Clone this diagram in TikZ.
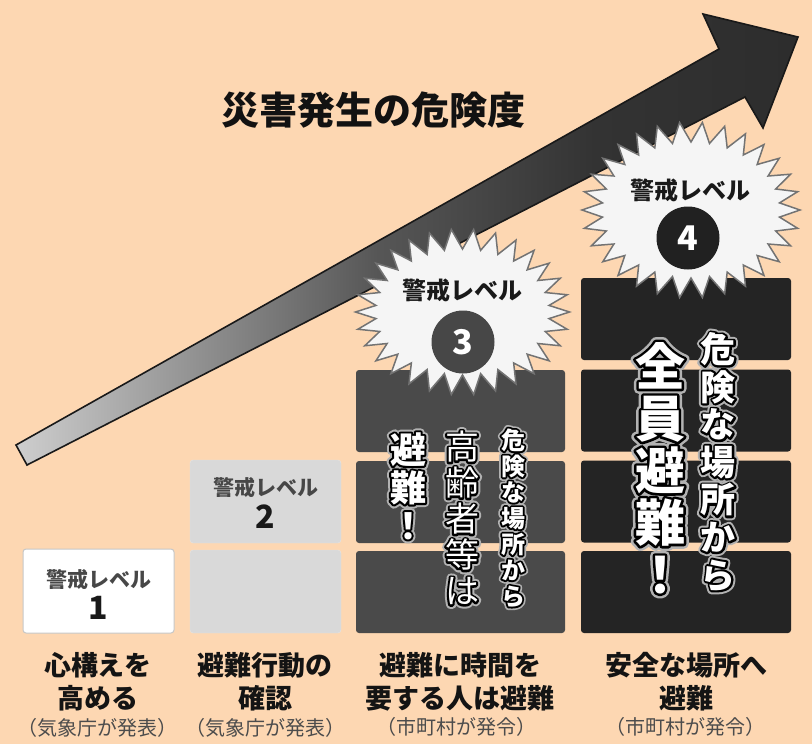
\documentclass[tikz,border=0pt]{standalone}
\usepackage{fontspec}
\newfontfamily\jp{Noto Sans CJK JP}
\usetikzlibrary{calc}
\definecolor{bg}{RGB}{253,215,178}
\newcommand\fs[2]{\fontsize{#1}{#2}\selectfont}
\pgfdeclarehorizontalshading{arrowshade}{100bp}{color(0bp)=(white); color(12bp)=(black!5); color(22bp)=(black!13); color(36bp)=(black!42); color(48bp)=(black!66); color(62bp)=(black!80); color(100bp)=(black!87)}
\newcommand\burst[6]{\draw[burst] ({#1+#3},{#2}) \foreach \i in {1,...,#5}{ -- ({#1+(#3-#6)*cos((\i-0.5)*360/#5)},{#2+(#4-#6)*sin((\i-0.5)*360/#5)}) -- ({#1+#3*cos(\i*360/#5)},{#2+#4*sin(\i*360/#5)}) } -- cycle;}
% outlined white text: name, position, font, text, outline stroke width, halo stroke width
\newcommand\otext[6]{%
  \node[align=center, font=#3, text=black!30] at (#2) {\special{pdf:literal direct #6 w 1 j 0.7 0.7 0.7 RG 2 Tr}#4};
  \node[align=center, font=#3, text=black] at (#2) {\special{pdf:literal direct #5 w 1 j 0 0 0 RG 2 Tr}#4};
  \node[align=center, font=#3, text=white] (#1) at (#2) {\special{pdf:literal direct 0 Tr}#4};
}
\begin{document}
\begin{tikzpicture}[x=1pt,y=-1pt,
  every node/.style={inner sep=0pt},
  lbl/.style={font=\jp\bfseries\fs{27}{33}, text=black!92, align=center},
  subl/.style={font=\jp\fs{20}{22}, text=black!70},
  lvtxt/.style={font=\jp\bfseries\fs{21}{23}, text=black!72},
  digit/.style={font=\jp\bfseries\fs{32}{34}, text=black!90},
  startxt/.style={font=\jp\bfseries\fs{24}{26}, text=black!90},
  circ/.style={circle, minimum size=63pt, text=white, font=\jp\bfseries\fs{34}{36}},
  burst/.style={fill=black!4, draw=black!55, line width=1.5pt, line join=miter},
  lvone/.style={draw=black!22, line width=1pt, fill=white, rounded corners=3pt, minimum width=151pt, minimum height=84pt},
  lvtwo/.style={fill=black!15, draw=black!10, rounded corners=3pt, minimum width=151pt, minimum height=83pt},
  lvthree/.style={fill=black!71, rounded corners=3pt, minimum width=209pt, minimum height=82pt},
  lvfour/.style={fill=black!86, rounded corners=3pt, minimum width=210pt, minimum height=82pt},
]
\fill[bg] (0,0) rectangle (812,744);
\useasboundingbox (0,0) rectangle (812,744);

% arrow
\coordinate (ta) at (16,445);
\coordinate (sb) at (719,49);
\coordinate (hc) at (703,14);
\coordinate (tip) at (798,37);
\coordinate (he) at (763,128);
\coordinate (sf) at (745,97);
\coordinate (tg) at (27,465);
\draw[shading=arrowshade, draw=black!90, line width=1.6pt, line join=miter]
  (ta) -- (sb) -- (hc) -- (tip) -- (he) -- (sf) -- (tg) -- cycle;

% title
\node[font=\jp\bfseries\fs{38}{40}, text=black!93] (title) at (373,110) {災害発生の危険度};

% level 1
\node[lvone] (b1) at (98.5,591) {};
\node[lvtxt] (k1) at (98.5,580) {警戒レベル};
\node[digit] (d1) at (98.5,608) {1};

% level 2
\node[lvtwo] (b2a) at (265.5,501.5) {};
\node[lvtwo] (b2b) at (265.5,591.5) {};
\node[lvtxt] (k2) at (265.5,488) {警戒レベル};
\node[digit] (d2) at (265.5,517) {2};

% level 3
\node[lvthree] (b3a) at (460.5,411) {};
\node[lvthree] (b3b) at (460.5,502) {};
\node[lvthree] (b3c) at (460.5,592) {};

% level 4
\node[lvfour] (b4a) at (686,319) {};
\node[lvfour] (b4b) at (686,410.5) {};
\node[lvfour] (b4c) at (686,501.5) {};
\node[lvfour] (b4d) at (686,592) {};

% bursts
\burst{462.5}{312}{107}{83}{30}{20}
\burst{691}{210}{109}{88}{30}{20}
\node[startxt] (k3) at (462,290) {警戒レベル};
\node[circ, fill=black!72] (c3) at (463,342) {3};
\node[startxt] (k4) at (690,190) {警戒レベル};
\node[circ, fill=black!87] (c4) at (688,238) {4};

% vertical texts level 3
\otext{v3a}{513,518}{\jp\bfseries\fs{24}{26}}{危\\険\\な\\場\\所\\か\\ら}{3.6}{7}
\otext{v3b}{462,518}{\jp\fs{34}{36}}{高\\齢\\者\\等\\は}{4}{8}
\otext{v3c}{408,486}{\jp\bfseries\fs{36}{38}}{避\\難\\！}{4}{8}

% vertical texts level 4
\otext{v4a}{718,462}{\jp\bfseries\fs{35}{37.6}}{危\\険\\な\\場\\所\\か\\ら}{4}{8}
\otext{v4b}{660,468}{\jp\bfseries\fs{50}{52}}{全\\員\\避\\難\\！}{5}{10}

% bottom labels
\node[lbl] (t1) at (98,681.5) {心構えを\\高める};
\node[subl] (s1) at (97.5,728) {（気象庁が発表）};
\node[lbl] (t2) at (265,681.5) {避難行動の\\確認};
\node[subl] (s2) at (265,728) {（気象庁が発表）};
\node[lbl] (t3) at (460,681.5) {避難に時間を\\要する人は避難};
\node[subl] (s3) at (456,727) {（市町村が発令）};
\node[lbl] (t4) at (686,681.5) {安全な場所へ\\避難};
\node[subl] (s4) at (685,727) {（市町村が発令）};
\end{tikzpicture}
\end{document}
